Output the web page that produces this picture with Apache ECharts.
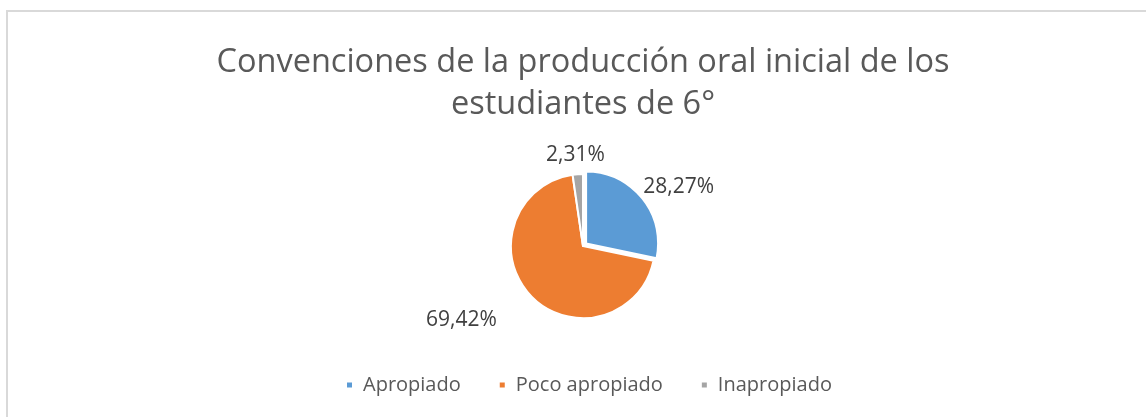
<!DOCTYPE html>
<html>
<head>
<meta charset="utf-8">
<script src="https://cdn.jsdelivr.net/npm/echarts@6/dist/echarts.min.js"></script>
<style>
  html, body { margin: 0; padding: 0; background: #fff; }
  #main { width: 1146px; height: 417px; }
</style>
</head>
<body>
<div id="main"></div>
<script>
// chart values
const categories = ['Apropiado', 'Poco apropiado', 'Inapropiado'];
const percentages = [28.27, 69.42, 2.31];
const sliceColors = ['#5b9bd5', '#ed7d31', '#a5a5a5'];
// nudges for the data labels (best-fit placement in the original)
const labelShift = [[-17, -3], [-16, 16], [37, -7]];

const chart = echarts.init(document.getElementById('main'), null, { renderer: 'canvas' });

const pieData = categories.map((name, i) => ({
  name: name,
  value: percentages[i],
  selected: i === 0,
  itemStyle: { color: sliceColors[i] }
}));

chart.setOption({
  animation: false,
  backgroundColor: '#fff',
  graphic: [{
    type: 'rect',
    shape: { x: 7, y: 11, width: 1160, height: 430 },
    style: { fill: 'none', stroke: '#d9d9d9', lineWidth: 2 },
    silent: true
  }],
  title: {
    text: 'Convenciones de la producción oral inicial de los\nestudiantes de 6°',
    left: 578,
    textAlign: 'center',
    top: 37,
    textStyle: {
      fontFamily: '"Open Sans", sans-serif',
      fontSize: 32.5,
      lineHeight: 42,
      fontWeight: 'normal',
      color: '#595959'
    }
  },
  legend: {
    data: categories,
    left: 340,
    top: 370,
    icon: 'rect',
    itemWidth: 7,
    itemHeight: 7,
    itemGap: 37,
    textStyle: {
      fontFamily: '"Open Sans", sans-serif',
      fontSize: 20,
      color: '#595959',
      padding: [0, 0, 0, 5]
    }
  },
  series: [{
    type: 'pie',
    center: [583, 246],
    radius: 72,
    startAngle: 90,
    clockwise: true,
    selectedMode: 'single',
    selectedOffset: 4,
    avoidLabelOverlap: false,
    itemStyle: { borderColor: '#fff', borderWidth: 2 },
    label: {
      show: true,
      position: 'outside',
      formatter: p => p.value.toFixed(2).replace('.', ',') + '%',
      fontFamily: '"Open Sans", sans-serif',
      fontSize: 21,
      color: '#404040'
    },
    labelLine: { show: false, length: 12, length2: 4 },
    labelLayout: p => ({ dx: labelShift[p.dataIndex][0], dy: labelShift[p.dataIndex][1] }),
    emphasis: { disabled: true },
    data: pieData
  }]
});
</script>
</body>
</html>
